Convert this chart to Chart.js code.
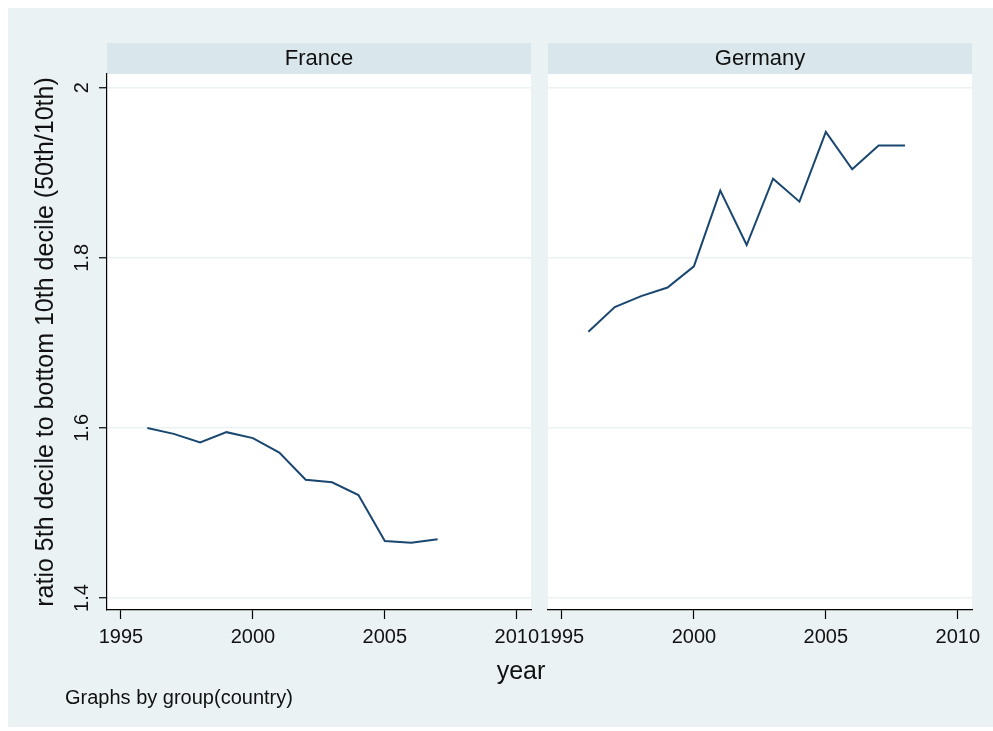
<!DOCTYPE html>
<html>
<head>
<meta charset="utf-8">
<script src="https://cdn.jsdelivr.net/npm/chart.js@4.4.0/dist/chart.umd.min.js"></script>
<style>
  html, body { margin: 0; padding: 0; background: #fff; }
  #wrap { position: relative; width: 993px; height: 731px; }
  #bg { position: absolute; left: 8px; top: 8px; width: 985px; height: 719px; background: #eaf2f3; }
  canvas { position: absolute; left: 0; top: 0; }
</style>
</head>
<body>
<div id="wrap">
  <div id="bg"></div>
  <canvas id="left" width="993" height="731"></canvas>
  <canvas id="right" width="993" height="731"></canvas>
</div>
<script>
// data
const franceYears = [1996, 1997, 1998, 1999, 2000, 2001, 2002, 2003, 2004, 2005, 2006, 2007];
const franceRatio = [1.600, 1.593, 1.583, 1.595, 1.588, 1.571, 1.539, 1.536, 1.521, 1.467, 1.465, 1.469];
const germanyYears = [1996, 1997, 1998, 1999, 2000, 2001, 2002, 2003, 2004, 2005, 2006, 2007, 2008];
const germanyRatio = [1.713, 1.742, 1.755, 1.765, 1.790, 1.879, 1.815, 1.893, 1.866, 1.948, 1.904, 1.932, 1.932];

const xTicks = [1995, 2000, 2005, 2010];
const yTicks = [1.4, 1.6, 1.8, 2];
const yTickLabels = ['1.4', '1.6', '1.8', '2'];
const panelNames = ['France', 'Germany'];

const FONT = "'Liberation Sans', Arial, sans-serif";
const LINE = '#1a476f';

// white plot area + grey strip with the panel name
function panelPlugin(name) {
  return {
    id: 'panel',
    beforeDraw(chart) {
      const a = chart.chartArea, ctx = chart.ctx;
      ctx.save();
      ctx.fillStyle = '#ffffff';
      ctx.fillRect(a.left, a.top, a.right - a.left, a.bottom - a.top);
      ctx.fillStyle = '#d9e6eb';
      ctx.fillRect(a.left, 43, a.right - a.left, a.top - 43);
      ctx.fillStyle = '#111';
      ctx.font = '22px ' + FONT;
      ctx.textAlign = 'center';
      ctx.textBaseline = 'middle';
      ctx.fillText(name, (a.left + a.right) / 2, 59);
      ctx.restore();
    }
  };
}

const notes = {
  id: 'notes',
  afterDraw(chart) {
    const ctx = chart.ctx;
    ctx.save();
    ctx.fillStyle = '#111';
    ctx.textBaseline = 'alphabetic';
    ctx.font = '25px ' + FONT;
    ctx.textAlign = 'center';
    ctx.fillText('year', 521, 679);
    ctx.font = '20px ' + FONT;
    ctx.textAlign = 'left';
    ctx.fillText('Graphs by group(country)', 65, 704);
    ctx.restore();
  }
};

function makeChart(id, years, values, name, showY, pad) {
  const plugins = [panelPlugin(name)];
  if (showY) plugins.push(notes);
  return new Chart(document.getElementById(id), {
    type: 'line',
    data: {
      datasets: [{
        data: years.map((y, i) => ({ x: y, y: values[i] })),
        borderColor: LINE,
        borderWidth: 2,
        pointRadius: 0,
        tension: 0,
        fill: false
      }]
    },
    plugins: plugins,
    options: {
      responsive: false,
      animation: false,
      layout: { padding: pad },
      plugins: { legend: { display: false }, tooltip: { enabled: false } },
      scales: {
        x: {
          type: 'linear',
          min: 1994.47,
          max: 2010.54,
          afterBuildTicks: s => { s.ticks = xTicks.map(v => ({ value: v })); },
          afterFit: s => { s.height = 121; },
          grid: { drawOnChartArea: false, drawTicks: true, tickLength: 9, tickColor: '#000', tickWidth: 1.2 },
          border: { display: true, color: '#000', width: 1.2 },
          ticks: {
            color: '#111',
            padding: 6,
            maxRotation: 0,
            autoSkip: false,
            font: { family: FONT, size: 20 },
            callback: v => String(v)
          }
        },
        y: {
          min: 1.3859,
          max: 2.0161,
          afterBuildTicks: s => { s.ticks = yTicks.map(v => ({ value: v })); },
          afterFit: s => { s.width = showY ? 107 : 0; },
          grid: { color: '#eaf2f3', lineWidth: 1.5, drawTicks: showY, tickLength: 8, tickColor: '#000', tickWidth: 1.2 },
          border: { display: showY, color: '#000', width: 1.2 },
          ticks: {
            display: showY,
            color: '#111',
            padding: 3,
            minRotation: 90,
            maxRotation: 90,
            crossAlign: 'center',
            autoSkip: false,
            font: { family: FONT, size: 20 },
            callback: (v, i) => yTickLabels[yTicks.indexOf(Math.round(v * 10) / 10)] ?? ''
          },
          title: {
            display: showY,
            text: 'ratio 5th decile to bottom 10th decile (50th/10th)',
            color: '#111',
            font: { family: FONT, size: 25 },
            padding: { top: 31, bottom: 0 }
          }
        }
      }
    }
  });
}

makeChart('left', franceYears, franceRatio, panelNames[0], true, { left: 0, top: 74, right: 462, bottom: 0 });
makeChart('right', germanyYears, germanyRatio, panelNames[1], false, { left: 548, top: 74, right: 21, bottom: 0 });
</script>
</body>
</html>
